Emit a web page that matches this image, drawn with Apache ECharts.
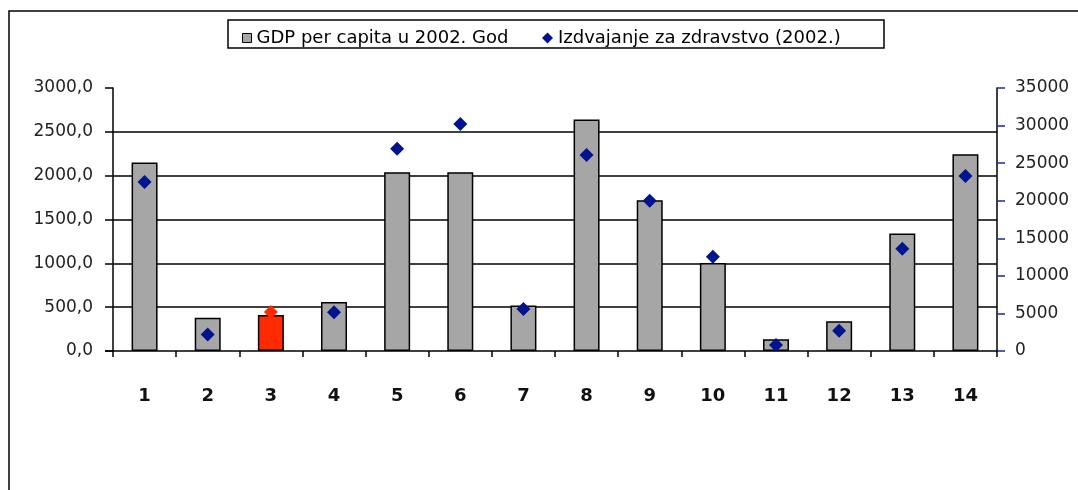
<!DOCTYPE html>
<html lang="en">
<head>
    <meta charset="UTF-8">
    <title>GDP per capita i izdvajanje za zdravstvo</title>
    <script src="https://cdn.jsdelivr.net/npm/echarts@6/dist/echarts.min.js"></script>
</head>

<style type="text/css">
    html, body {
        margin: 0;
        padding: 0;
        background: #fff;
    }

    #chart {
        width: 1078px;
        height: 490px;
    }
</style>

<body>

<div id="chart"></div>

<script>
    // podaci
    var categories = ['1', '2', '3', '4', '5', '6', '7', '8', '9', '10', '11', '12', '13', '14'];
    var gdpValues = [2150, 380, 410, 560, 2040, 2040, 520, 2640, 1720, 1005, 135, 340, 1340, 2245];
    var healthValues = [22500, 2200, 5200, 5150, 26900, 30200, 5600, 26100, 20000, 12550, 800, 2700, 13600, 23300];
    var gridValues = [500, 1000, 1500, 2000, 2500];
    var highlightIndex = 2; // kategorija 3 je crvena

    var barName = 'GDP per capita u 2002. God';
    var dotName = 'Izdvajanje za zdravstvo (2002.)';

    var chart = echarts.init(document.getElementById('chart'));

    var barData = gdpValues.map(function (v, i) {
        if (i === highlightIndex) {
            return {value: v, itemStyle: {color: '#ff2a00'}};
        }
        return v;
    });
    var dotData = healthValues.map(function (v, i) {
        if (i === highlightIndex) {
            return {value: v, itemStyle: {color: '#ff2a00'}};
        }
        return v;
    });

    var legendText = {
        fontFamily: 'DejaVu Sans',
        fontSize: 18,
        color: '#000'
    };

    var option = {
        backgroundColor: '#fff',
        animation: false,
        textStyle: {
            fontFamily: 'DejaVu Sans'
        },
        graphic: [{
            type: 'rect',
            shape: {x: 9, y: 11, width: 1100, height: 500},
            style: {fill: 'none', stroke: '#000', lineWidth: 1.5},
            silent: true
        }, {
            type: 'rect',
            shape: {x: 228, y: 20, width: 656, height: 28},
            style: {fill: 'none', stroke: '#000', lineWidth: 1.5},
            silent: true
        }, {
            // x os malo izlazi lijevo od y osi
            type: 'line',
            shape: {x1: 105, y1: 351, x2: 113, y2: 351},
            style: {stroke: '#000', lineWidth: 1.5},
            silent: true
        }],
        legend: [{
            left: 237,
            top: 24,
            itemWidth: 9,
            itemHeight: 9,
            itemGap: 6,
            textStyle: legendText,
            data: [
                {name: barName, icon: 'rect', itemStyle: {color: '#a6a6a6', borderColor: '#000', borderWidth: 1}}
            ]
        }, {
            left: 537,
            top: 24,
            itemWidth: 11,
            itemHeight: 11,
            textStyle: legendText,
            data: [
                {name: dotName, icon: 'diamond', itemStyle: {color: '#00148f', opacity: 1}}
            ]
        }],
        grid: {
            left: 113,
            right: 81,
            top: 88,
            height: 263
        },
        xAxis: {
            type: 'category',
            data: categories,
            axisLine: {lineStyle: {color: '#000', width: 1.5}},
            axisTick: {show: true, length: 6, lineStyle: {color: '#000', width: 1.5}},
            axisLabel: {
                margin: 36,
                fontFamily: 'DejaVu Sans',
                fontWeight: 'bold',
                fontSize: 18,
                color: '#111'
            }
        },
        yAxis: [{
            type: 'value',
            min: 0,
            max: 3000,
            interval: 500,
            axisLine: {show: true, lineStyle: {color: '#000', width: 1.5}},
            axisTick: {show: true, length: 8, lineStyle: {color: '#000', width: 1.5}},
            splitLine: {show: false},
            axisLabel: {
                margin: 20,
                fontSize: 17,
                color: '#222',
                formatter: function (v) {
                    return v.toFixed(1).replace('.', ',');
                }
            }
        }, {
            type: 'value',
            min: 0,
            max: 35000,
            interval: 5000,
            position: 'right',
            axisLine: {show: true, lineStyle: {color: '#000', width: 1.5}},
            axisTick: {show: true, length: 8, lineStyle: {color: '#1a2a9c', width: 1.5}},
            splitLine: {show: false},
            axisLabel: {
                margin: 18,
                fontSize: 17,
                color: '#222',
                formatter: function (v) {
                    return String(v);
                }
            }
        }],
        series: [{
            name: barName,
            type: 'bar',
            yAxisIndex: 0,
            barWidth: 26,
            data: barData,
            itemStyle: {
                color: '#a6a6a6',
                borderColor: '#000',
                borderWidth: 1.5
            },
            markLine: {
                silent: true,
                symbol: 'none',
                z: 1,
                label: {show: false},
                lineStyle: {color: '#000', width: 1.5, type: 'solid'},
                data: gridValues.map(function (v) {
                    return {yAxis: v};
                })
            }
        }, {
            name: dotName,
            type: 'scatter',
            yAxisIndex: 1,
            symbol: 'diamond',
            symbolSize: 14,
            data: dotData,
            itemStyle: {
                color: '#00148f',
                opacity: 1
            }
        }]
    };

    chart.setOption(option);
</script>

</body>
</html>
